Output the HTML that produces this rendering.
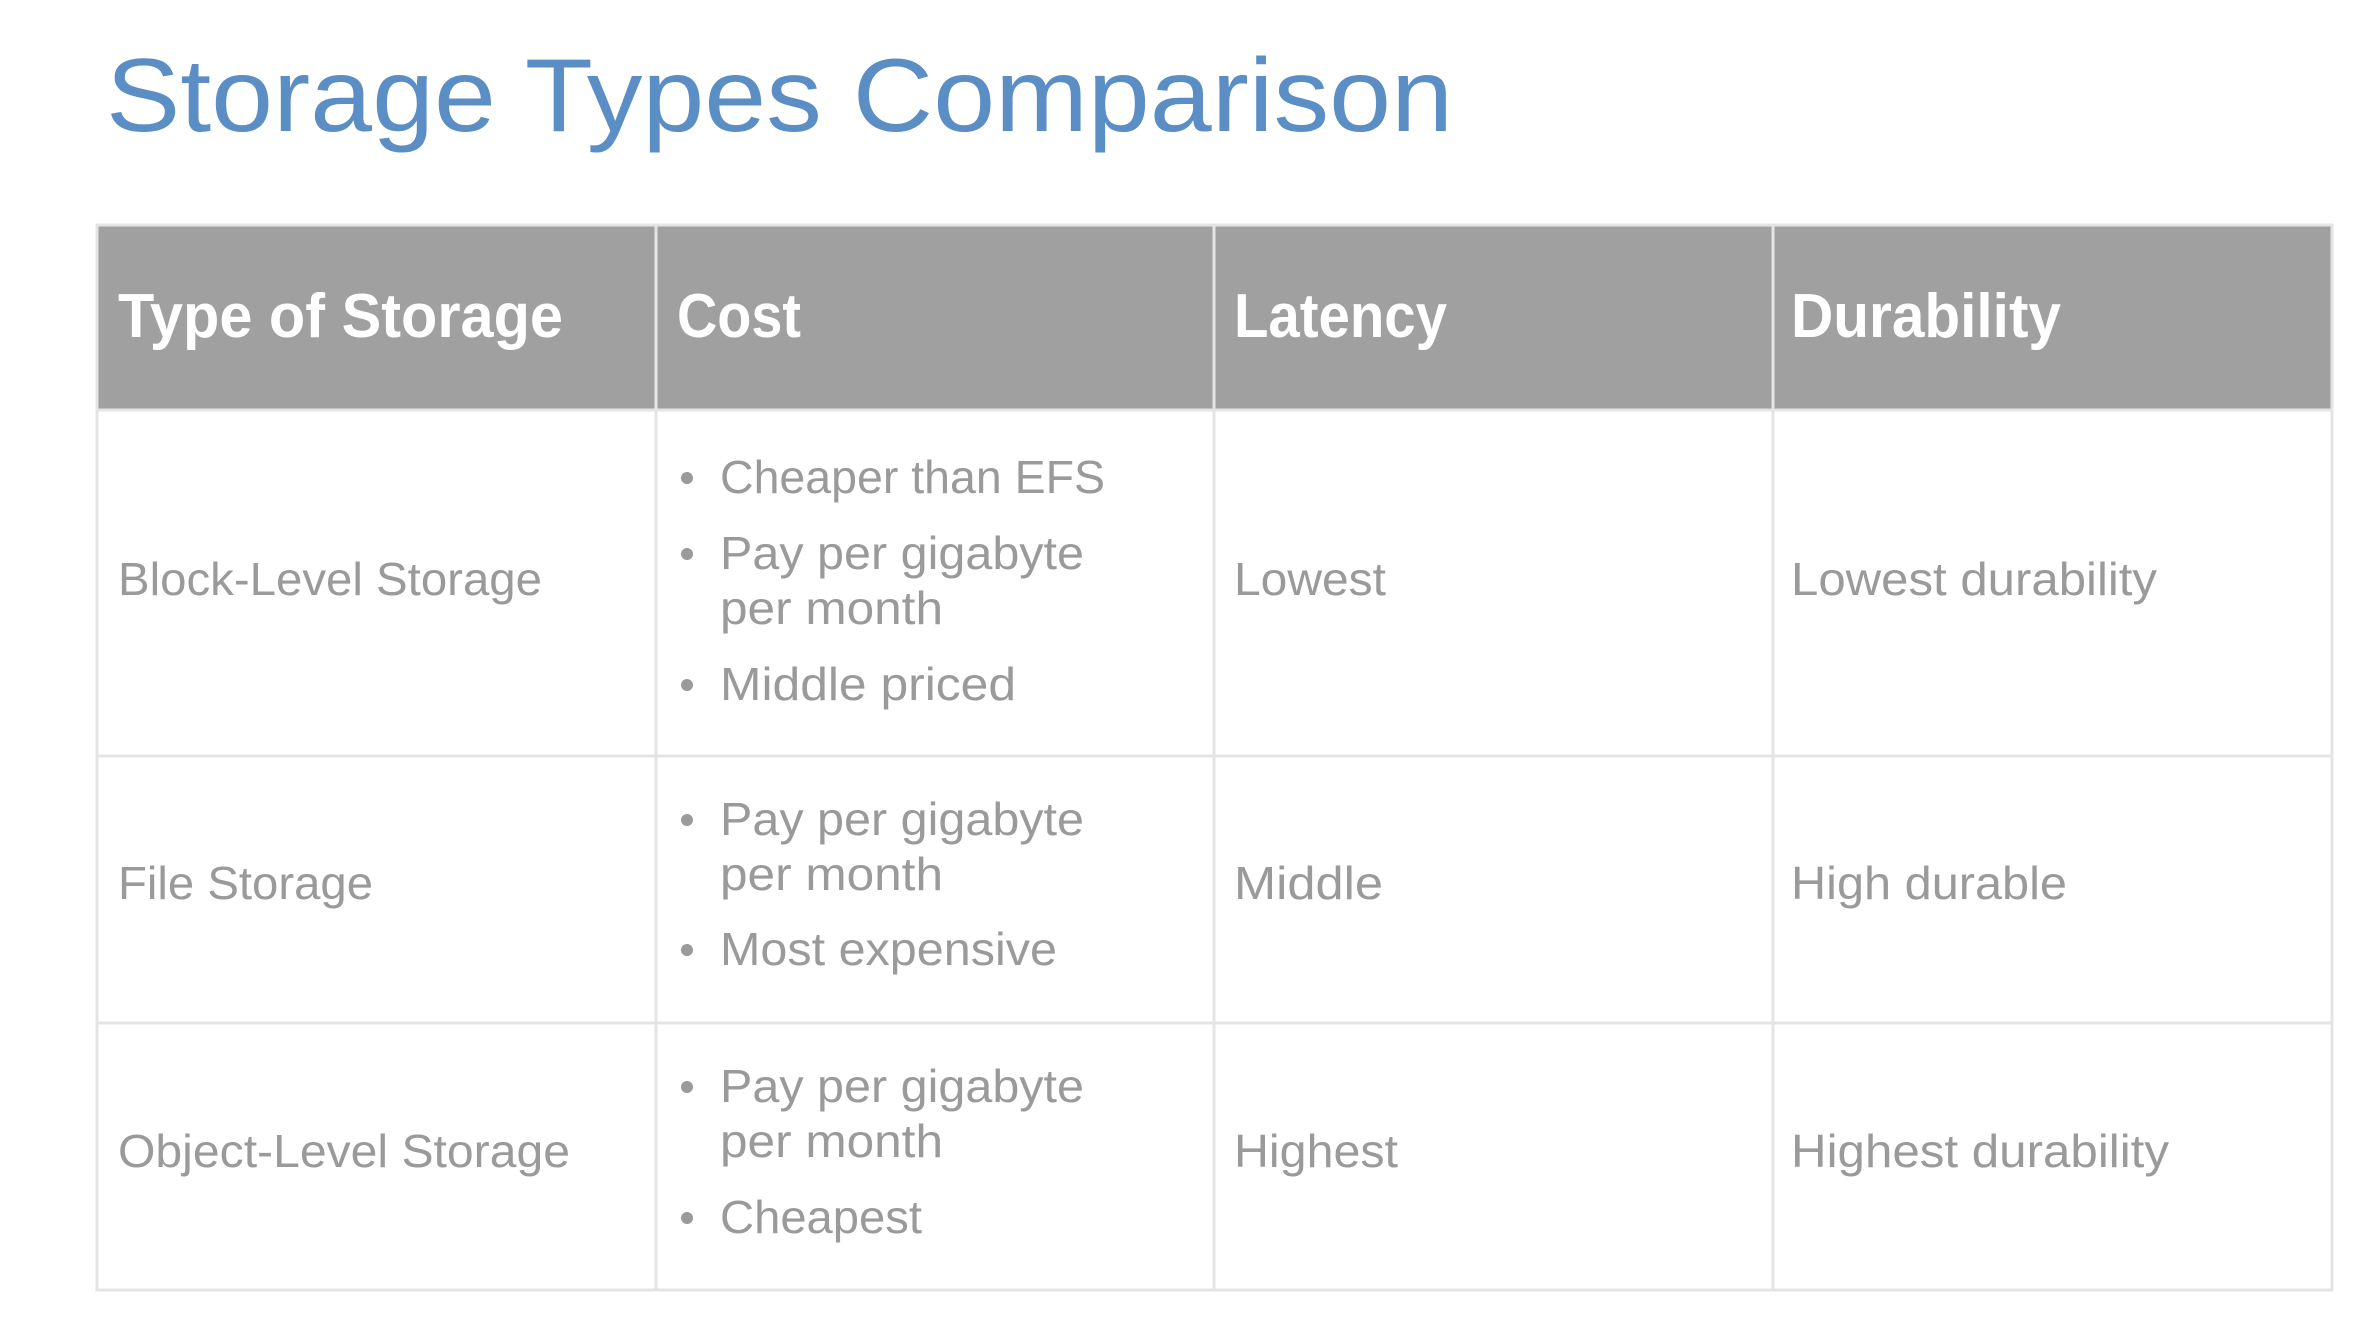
<!DOCTYPE html>
<html><head><meta charset="utf-8"><style>
html,body{margin:0;padding:0;background:#fff;}
svg{display:block;}
text{font-family:"Liberation Sans",sans-serif;}
.b{fill:#9a9a9a;font-size:46px;}
.h{fill:#fff;font-size:62px;font-weight:bold;}
</style></head><body>
<svg width="2368" height="1324" viewBox="0 0 2368 1324" xmlns="http://www.w3.org/2000/svg">
<rect width="2368" height="1324" fill="#fff"/>
<text x="106" y="131" font-size="104" fill="#5b8ec4" textLength="1347" lengthAdjust="spacingAndGlyphs">Storage Types Comparison</text>
<rect x="97" y="225" width="2235" height="185" fill="#a0a0a0"/>
<g stroke="#e4e4e4" stroke-width="3" fill="none">
<rect x="97" y="225" width="2235" height="1065"/>
<line x1="97" y1="410" x2="2332" y2="410"/>
<line x1="97" y1="756" x2="2332" y2="756"/>
<line x1="97" y1="1023" x2="2332" y2="1023"/>
<line x1="656" y1="225" x2="656" y2="1290"/>
<line x1="1214" y1="225" x2="1214" y2="1290"/>
<line x1="1773" y1="225" x2="1773" y2="1290"/>
</g>
<text class="h" x="118" y="337" textLength="445" lengthAdjust="spacingAndGlyphs">Type of Storage</text>
<text class="h" x="677" y="337" textLength="124" lengthAdjust="spacingAndGlyphs">Cost</text>
<text class="h" x="1234" y="337" textLength="213" lengthAdjust="spacingAndGlyphs">Latency</text>
<text class="h" x="1791" y="337" textLength="270" lengthAdjust="spacingAndGlyphs">Durability</text>

<text class="b" x="118" y="595" textLength="424" lengthAdjust="spacingAndGlyphs">Block-Level Storage</text>
<text class="b" x="118" y="899" textLength="255" lengthAdjust="spacingAndGlyphs">File Storage</text>
<text class="b" x="118" y="1167" textLength="452" lengthAdjust="spacingAndGlyphs">Object-Level Storage</text>

<text class="b" x="1234" y="595" textLength="152" lengthAdjust="spacingAndGlyphs">Lowest</text>
<text class="b" x="1234" y="899" textLength="149" lengthAdjust="spacingAndGlyphs">Middle</text>
<text class="b" x="1234" y="1167" textLength="164" lengthAdjust="spacingAndGlyphs">Highest</text>

<text class="b" x="1791" y="595" textLength="366" lengthAdjust="spacingAndGlyphs">Lowest durability</text>
<text class="b" x="1791" y="899" textLength="276" lengthAdjust="spacingAndGlyphs">High durable</text>
<text class="b" x="1791" y="1167" textLength="378" lengthAdjust="spacingAndGlyphs">Highest durability</text>

<g fill="#9a9a9a">
<circle cx="687" cy="478" r="6"/><circle cx="687" cy="554" r="6"/><circle cx="687" cy="685" r="6"/>
<circle cx="687" cy="820" r="6"/><circle cx="687" cy="950" r="6"/>
<circle cx="687" cy="1087" r="6"/><circle cx="687" cy="1218" r="6"/>
</g>
<text class="b" x="720" y="493" textLength="385" lengthAdjust="spacingAndGlyphs">Cheaper than EFS</text>
<text class="b" x="720" y="569" textLength="364" lengthAdjust="spacingAndGlyphs">Pay per gigabyte</text>
<text class="b" x="720" y="624" textLength="223" lengthAdjust="spacingAndGlyphs">per month</text>
<text class="b" x="720" y="700" textLength="296" lengthAdjust="spacingAndGlyphs">Middle priced</text>

<text class="b" x="720" y="835" textLength="364" lengthAdjust="spacingAndGlyphs">Pay per gigabyte</text>
<text class="b" x="720" y="890" textLength="223" lengthAdjust="spacingAndGlyphs">per month</text>
<text class="b" x="720" y="965" textLength="337" lengthAdjust="spacingAndGlyphs">Most expensive</text>

<text class="b" x="720" y="1102" textLength="364" lengthAdjust="spacingAndGlyphs">Pay per gigabyte</text>
<text class="b" x="720" y="1157" textLength="223" lengthAdjust="spacingAndGlyphs">per month</text>
<text class="b" x="720" y="1233" textLength="202" lengthAdjust="spacingAndGlyphs">Cheapest</text>
</svg>
</body></html>
